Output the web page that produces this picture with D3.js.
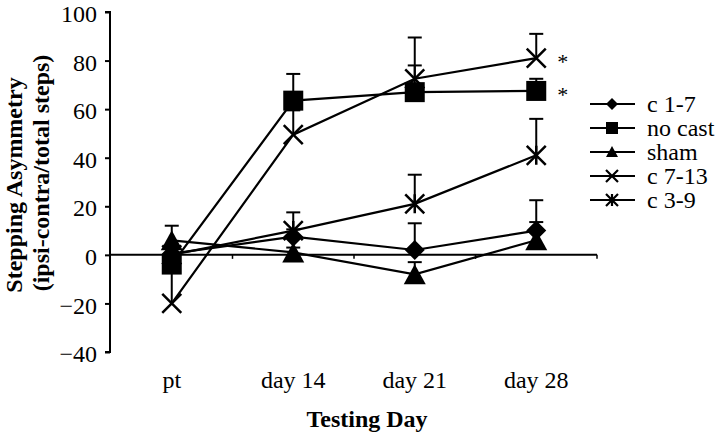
<!DOCTYPE html>
<html>
<head>
<meta charset="utf-8">
<script src="https://cdn.jsdelivr.net/npm/d3@7"></script>
<style>
  html, body { margin: 0; padding: 0; background: #fff; }
  svg { display: block; }
  svg text { font-family: "Liberation Serif", "Times New Roman", serif; fill: #000; }
</style>
</head>
<body>
<div id="chart"></div>
<script>
"use strict";

/* ── Data ── */
const days     = ["pt", "day 14", "day 21", "day 28"];
const yTicks   = [-40, -20, 0, 20, 40, 60, 80, 100];
const names    = ["c 1-7", "no cast", "sham", "c 7-13", "c 3-9"];
const symbols  = ["diamond", "square", "triangle", "cross", "star"];

const c17      = [0.5, 7.5, 2, 10];
const c17Err   = [3, 3, 11, 12.5];
const noCast    = [-4, 63.5, 67, 67.5];
const noCastErr = [4, 11, 11, 5];
const sham      = [6, 1, -8, 6];
const shamErr   = [6, 2, 5, 7.5];
const c713      = [-20, 49.5, 72.5, 81];
const c713Err   = [14, 10, 17, 10];
const c39       = [0, 10, 21, 41];
const c39Err    = [3, 7.5, 12, 15];

const seriesVals = [c17, noCast, sham, c713, c39];
const seriesErrs = [c17Err, noCastErr, shamErr, c713Err, c39Err];
const signif     = [{ day: "day 28", value: 81 }, { day: "day 28", value: 67.5 }];

/* ── Layout ── */
const W = 720, H = 437;
const FONT = "Liberation Serif, Times New Roman, serif";
const svg = d3.select("#chart").append("svg")
  .attr("width", W).attr("height", H);

const x = d3.scaleBand().domain(days).range([111, 597]).padding(0);
const y = d3.scaleLinear().domain([-40, 100]).range([352, 12]);
const cx = d => x(d) + x.bandwidth() / 2;

/* ── Y axis ── */
svg.append("g")
  .attr("transform", "translate(110,0)")
  .call(d3.axisLeft(y).tickValues(yTicks).tickSize(5).tickPadding(8))
  .call(g => {
    g.attr("font-family", FONT);
    g.select(".domain").attr("stroke", "#000").attr("stroke-width", 2)
      .attr("d", `M-5,${y(-40)}H0V${y(100)}H-5`);
    g.selectAll(".tick line").attr("stroke", "#000").attr("stroke-width", 2);
    g.selectAll(".tick text")
      .attr("fill", "#000").attr("font-size", "24px")
      .attr("dy", "0.4em")
      .attr("font-family", FONT);
  });

/* ── Zero line (category axis) ── */
svg.append("line")
  .attr("x1", 110).attr("x2", 597)
  .attr("y1", y(0)).attr("y2", y(0))
  .attr("stroke", "#000").attr("stroke-width", 2);

svg.selectAll(".cat-tick")
  .data(days.slice(1).concat(["end"]))
  .join("line")
  .attr("class", "cat-tick")
  .attr("x1", d => d === "end" ? 597 : x(d))
  .attr("x2", d => d === "end" ? 597 : x(d))
  .attr("y1", y(0)).attr("y2", y(0) + 4)
  .attr("stroke", "#000").attr("stroke-width", 1.5);

/* ── Category labels ── */
svg.selectAll(".cat-label")
  .data(days)
  .join("text")
  .attr("class", "cat-label")
  .attr("x", d => cx(d)).attr("y", 388)
  .attr("text-anchor", "middle")
  .attr("font-family", FONT)
  .attr("font-size", "24px")
  .text(d => d);

/* ── Axis titles ── */
svg.append("text")
  .attr("x", 367).attr("y", 427)
  .attr("text-anchor", "middle")
  .attr("font-family", FONT)
  .attr("font-size", "24px").attr("font-weight", "bold")
  .text("Testing Day");

svg.append("text")
  .attr("transform", "translate(22,185) rotate(-90)")
  .attr("text-anchor", "middle")
  .attr("font-family", FONT)
  .attr("font-size", "24px").attr("font-weight", "bold")
  .text("Stepping Asymmetry");
svg.append("text")
  .attr("transform", "translate(49,173) rotate(-90)")
  .attr("text-anchor", "middle")
  .attr("font-family", FONT)
  .attr("font-size", "24px").attr("font-weight", "bold")
  .text("(ipsi-contra/total steps)");

/* ── Marker drawing ── */
function drawMarker(g, sym, px, py) {
  const s = 10;
  if (sym === "diamond") {
    g.append("path").attr("d", `M${px},${py - s}L${px + s},${py}L${px},${py + s}L${px - s},${py}Z`)
      .attr("fill", "#000");
  } else if (sym === "square") {
    g.append("rect").attr("x", px - s).attr("y", py - s)
      .attr("width", 2 * s).attr("height", 2 * s).attr("fill", "#000");
  } else if (sym === "triangle") {
    g.append("path").attr("d", `M${px},${py - s}L${px + 11},${py + s}L${px - 11},${py + s}Z`)
      .attr("fill", "#000");
  } else {
    const k = 9.5;
    let d = `M${px - k},${py - k}L${px + k},${py + k}M${px + k},${py - k}L${px - k},${py + k}`;
    if (sym === "star") d += `M${px},${py - k}L${px},${py + k}`;
    g.append("path").attr("d", d).attr("stroke", "#000")
      .attr("stroke-width", 2.5).attr("fill", "none");
  }
}

const line = d3.line().x((v, i) => cx(days[i])).y(v => y(v));
const plot = svg.append("g");

/* ── Lines ── */
seriesVals.forEach(vals => {
  plot.append("path")
    .attr("d", line(vals))
    .attr("fill", "none").attr("stroke", "#000").attr("stroke-width", 2.2);
});

/* ── Error bars (plus only) ── */
seriesVals.forEach((vals, si) => {
  vals.forEach((v, i) => {
    const px = cx(days[i]);
    const top = y(v + seriesErrs[si][i]);
    plot.append("line")
      .attr("x1", px).attr("x2", px).attr("y1", y(v)).attr("y2", top)
      .attr("stroke", "#000").attr("stroke-width", 2);
    plot.append("line")
      .attr("x1", px - 7).attr("x2", px + 7).attr("y1", top).attr("y2", top)
      .attr("stroke", "#000").attr("stroke-width", 2);
  });
});

/* ── Markers ── */
seriesVals.forEach((vals, si) => {
  vals.forEach((v, i) => drawMarker(plot, symbols[si], cx(days[i]), y(v)));
});

/* ── Significance asterisks ── */
svg.selectAll(".sig")
  .data(signif)
  .join("text")
  .attr("class", "sig")
  .attr("x", d => cx(d.day) + 21).attr("y", d => y(d.value) + 11)
  .attr("font-family", FONT)
  .attr("font-size", "22px")
  .text("*");

/* ── Legend ── */
const legend = svg.append("g");
names.forEach((n, i) => {
  const ly = 104 + i * 24;
  legend.append("line")
    .attr("x1", 590).attr("x2", 635).attr("y1", ly).attr("y2", ly)
    .attr("stroke", "#000").attr("stroke-width", 2);
  const g = legend.append("g");
  const sym = symbols[i];
  if (sym === "cross" || sym === "star") {
    const k = 6;
    let d = `M${612 - k},${ly - k}L${612 + k},${ly + k}M${612 + k},${ly - k}L${612 - k},${ly + k}`;
    if (sym === "star") d += `M612,${ly - k}L612,${ly + k}`;
    g.append("path").attr("d", d).attr("stroke", "#000").attr("stroke-width", 2.2).attr("fill", "none");
  } else if (sym === "diamond") {
    g.append("path").attr("d", `M612,${ly - 6}L618,${ly}L612,${ly + 6}L606,${ly}Z`).attr("fill", "#000");
  } else if (sym === "square") {
    g.append("rect").attr("x", 606).attr("y", ly - 6).attr("width", 12).attr("height", 12).attr("fill", "#000");
  } else {
    g.append("path").attr("d", `M612,${ly - 6}L618,${ly + 5}L606,${ly + 5}Z`).attr("fill", "#000");
  }
  legend.append("text")
    .attr("x", 647).attr("y", ly + 8)
    .attr("font-family", FONT)
    .attr("font-size", "24px")
    .text(n);
});
</script>
</body>
</html>
